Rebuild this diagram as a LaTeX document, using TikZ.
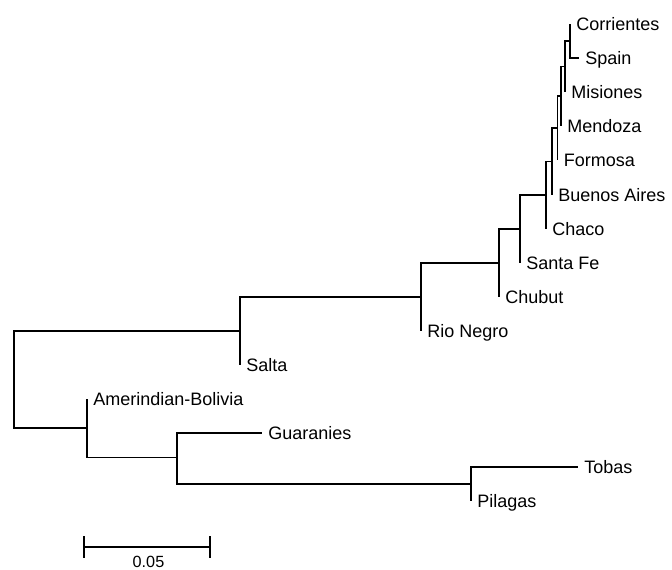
\documentclass[tikz,border=0pt]{standalone}
\usepackage{fontspec}
\setmainfont{Liberation Sans}

\begin{document}
\begin{tikzpicture}[x=0.5pt, y=-0.5pt,
    branch/.style={line width=0.6pt, black},
    taxon/.style={anchor=west, inner xsep=3pt, inner ysep=0pt, text height=6.4pt, text depth=0pt, font=\fontsize{9}{10}\selectfont}]
  %albero, bordi
    \useasboundingbox (0,0) rectangle (672,569);
  % nodi interni
    \coordinate (root) at (14,379.5);
    \coordinate (n10) at (240,331);
    \coordinate (n9) at (421,297);
    \coordinate (n8) at (499,263);
    \coordinate (n7) at (520,229);
    \coordinate (n6) at (546,195);
    \coordinate (n5) at (552,161.5);
    \coordinate (n4) at (557.5,128);
    \coordinate (n3) at (561,96);
    \coordinate (n2) at (565,66.5);
    \coordinate (n1) at (570,41);
    \coordinate (nA) at (87,428);
    \coordinate (nB) at (177,457.5);
    \coordinate (nC) at (471,484);
  % foglie
    \node[taxon] (corr) at (570,24) {Corrientes};
    \node[taxon] (spain) at (579,58) {Spain};
    \node[taxon] (mis) at (565,92) {Misiones};
    \node[taxon] (mend) at (561,126) {Mendoza};
    \node[taxon] (form) at (557.5,160) {Formosa};
    \node[taxon] (bue) at (552,195) {Buenos Aires};
    \node[taxon] (chaco) at (546,229) {Chaco};
    \node[taxon] (sfe) at (520,263) {Santa Fe};
    \node[taxon] (chub) at (499,297) {Chubut};
    \node[taxon] (rio) at (421,331) {Rio Negro};
    \node[taxon] (salta) at (240,365) {Salta};
    \node[taxon] (amer) at (87,399) {Amerindian-Bolivia};
    \node[taxon] (guar) at (262,433) {Guaranies};
    \node[taxon] (tobas) at (578,467) {Tobas};
    \node[taxon] (pil) at (471,501) {Pilagas};
  % rami
    \draw[branch] (n1) |- (corr.west);
    \draw[branch] (n1) |- (spain.west);
    \draw[branch] (n2) |- (n1);
    \draw[branch] (n2) |- (mis.west);
    \draw[branch] (n3) |- (n2);
    \draw[branch] (n3) |- (mend.west);
    \draw[branch] (n4) |- (n3);
    \draw[branch] (n4) |- (form.west);
    \draw[branch] (n5) |- (n4);
    \draw[branch] (n5) |- (bue.west);
    \draw[branch] (n6) |- (n5);
    \draw[branch] (n6) |- (chaco.west);
    \draw[branch] (n7) |- (n6);
    \draw[branch] (n7) |- (sfe.west);
    \draw[branch] (n8) |- (n7);
    \draw[branch] (n8) |- (chub.west);
    \draw[branch] (n9) |- (n8);
    \draw[branch] (n9) |- (rio.west);
    \draw[branch] (n10) |- (n9);
    \draw[branch] (n10) |- (salta.west);
    \draw[branch] (root) |- (n10);
    \draw[branch] (root) |- (nA);
    \draw[branch] (nA) |- (amer.west);
    \draw[branch] (nA) |- (nB);
    \draw[branch] (nB) |- (guar.west);
    \draw[branch] (nB) |- (nC);
    \draw[branch] (nC) |- (tobas.west);
    \draw[branch] (nC) |- (pil.west);
  % scala
    \coordinate (barL) at (84,547);
    \coordinate (barR) at (210,547);
    \draw[branch] (barL) -- (barR);
    \draw[branch] ([yshift=5.5]barL) -- ([yshift=-5.5]barL);
    \draw[branch] ([yshift=5.5]barR) -- ([yshift=-5.5]barR);
    \node[anchor=south, inner sep=0pt, font=\fontsize{8.1}{9}\selectfont] (scale) at (148.5,568) {0.05};
\end{tikzpicture}
\end{document}
